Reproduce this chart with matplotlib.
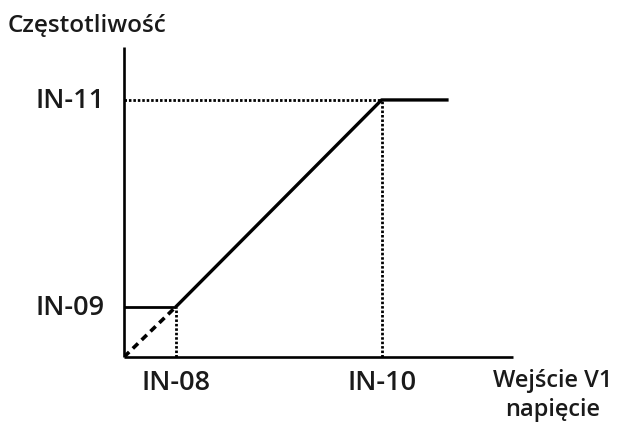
import matplotlib.pyplot as plt

# data values (arbitrary units)
x_ticks = [1.0, 5.0]          # IN-08, IN-10
x_labels = ['IN-08', 'IN-10']
y_ticks = [0.97, 5.0]         # IN-09, IN-11
y_labels = ['IN-09', 'IN-11']
x_end = 6.3                   # end of the plateau
x_max, y_max = 7.55, 6.03

plt.rcParams['font.family'] = ['Open Sans', 'DejaVu Sans']
txt = '#1a1a1a'

fig = plt.figure(figsize=(6.21, 4.31), dpi=100)
ax = fig.add_axes([124 / 621, 73 / 431, 389 / 621, 310 / 431])
ax.set_xlim(0, x_max)
ax.set_ylim(0, y_max)
for s in ['top', 'right']:
    ax.spines[s].set_visible(False)
for s in ['left', 'bottom']:
    ax.spines[s].set_linewidth(1.9)
    ax.spines[s].set_color('black')
    ax.spines[s].set_capstyle('butt')
ax.set_xticks([])
ax.set_yticks([])

# characteristic
ax.plot([0, x_ticks[0]], [y_ticks[0], y_ticks[0]], color='black', lw=2.0, solid_capstyle='butt')
ax.plot([x_ticks[0], x_ticks[1], x_end], [y_ticks[0], y_ticks[1], y_ticks[1]],
        color='black', lw=2.4, solid_capstyle='butt')
ax.plot([0, x_ticks[0]], [0, y_ticks[0]], color='black', lw=2.6, ls=(0, (2.0, 1.4)))

# guide lines
dot = dict(color='black', lw=2.0, ls=(0, (0.9, 0.7)))
ax.plot([x_ticks[0], x_ticks[0]], [0, y_ticks[0]], **dot)
ax.plot([x_ticks[1], x_ticks[1]], [0, y_ticks[1]], **dot)
ax.plot([0, x_ticks[1]], [y_ticks[1], y_ticks[1]], **dot)

fs = 19.5
for x, lab in zip(x_ticks, x_labels):
    ax.text(x, -0.49, lab, ha='center', va='center', fontsize=fs, color=txt, fontweight='semibold')
for y, lab in zip(y_ticks, y_labels):
    ax.text(-0.37, y, lab, ha='right', va='center', fontsize=fs, color=txt, fontweight='semibold')

fig.text(8 / 621, 1 - 26 / 431, 'Częstotliwość', ha='left', va='center', fontsize=17.5, color=txt, fontweight='semibold')
fig.text(553 / 621, 1 - 381 / 431, 'Wejście V1', ha='center', va='center', fontsize=17, color=txt, fontweight='semibold')
fig.text(553 / 621, 1 - 410 / 431, 'napięcie', ha='center', va='center', fontsize=17, color=txt, fontweight='semibold')

fig.savefig('out.png', dpi=100, facecolor='white')
